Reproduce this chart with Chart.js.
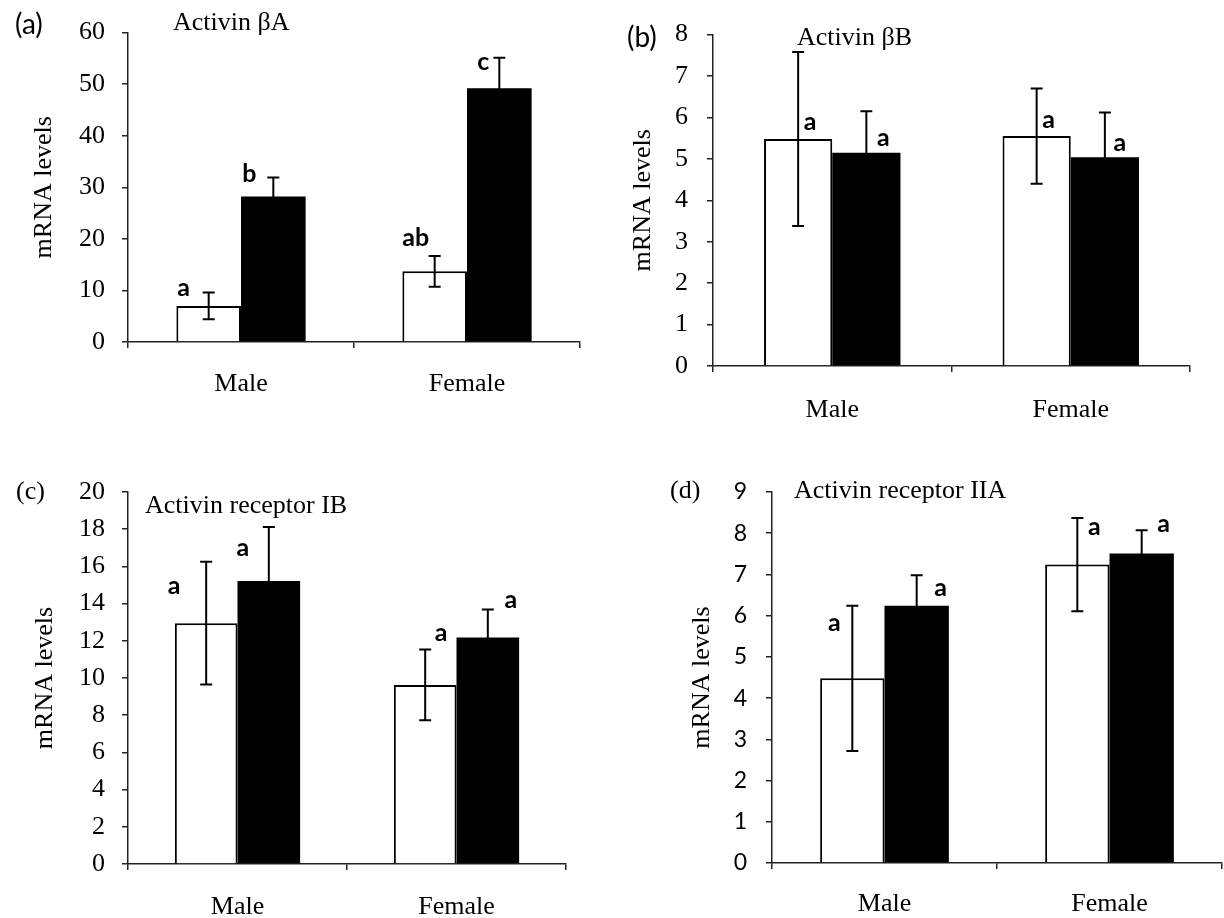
<!DOCTYPE html>
<html>
<head>
<meta charset="utf-8">
<script src="https://cdn.jsdelivr.net/npm/chart.js@4.4.0/dist/chart.umd.min.js"></script>
<style>
  body { margin: 0; background: #fff; }
  #wrap { position: relative; width: 1224px; height: 918px; }
  #wrap canvas { position: absolute; }
</style>
</head>
<body>
<div id="wrap">
  <canvas id="chartA" width="612" height="459" style="left:0;top:0"></canvas>
  <canvas id="chartB" width="612" height="459" style="left:612px;top:0"></canvas>
  <canvas id="chartC" width="612" height="459" style="left:0;top:459px"></canvas>
  <canvas id="chartD" width="612" height="459" style="left:612px;top:459px"></canvas>
</div>
<script>
const categories = ['Male', 'Female'];

// Activin βA
const betaAOpen = [7.0, 13.7];
const betaAOpenErr = [2.6, 3.0];
const betaASolid = [28.2, 49.2];
const betaASolidErr = [3.7, 5.9];
const betaALetters = [['a', 'ab'], ['b', 'c']];
const betaATicks = [0, 10, 20, 30, 40, 50, 60];

// Activin βB
const betaBOpen = [5.48, 5.55];
const betaBOpenErr = [2.1, 1.15];
const betaBSolid = [5.15, 5.04];
const betaBSolidErr = [1.0, 1.08];
const betaBLetters = [['a', 'a'], ['a', 'a']];
const betaBTicks = [0, 1, 2, 3, 4, 5, 6, 7, 8];

// Activin receptor IB
const r1bOpen = [12.95, 9.63];
const r1bOpenErr = [3.3, 1.9];
const r1bSolid = [15.22, 12.18];
const r1bSolidErr = [2.9, 1.5];
const r1bLetters = [['a', 'a'], ['a', 'a']];
const r1bTicks = [0, 2, 4, 6, 8, 10, 12, 14, 16, 18, 20];

// Activin receptor IIA
const r2aOpen = [4.48, 7.24];
const r2aOpenErr = [1.76, 1.13];
const r2aSolid = [6.24, 7.51];
const r2aSolidErr = [0.74, 0.56];
const r2aLetters = [['a', 'a'], ['a', 'a']];
const r2aTicks = [0, 1, 2, 3, 4, 5, 6, 7, 8, 9];

const SERIF = 'Liberation Serif, Times New Roman, serif';
const SANS = 'Lato, Carlito, sans-serif';
const W = 612, H = 459;
const AXIS_W = 100, AXIS_H = 60;

// mean +/- error whiskers on every bar
const errorBars = {
  id: 'errorBars',
  afterDatasetsDraw(chart) {
    const ctx = chart.ctx, y = chart.scales.y;
    ctx.save();
    ctx.strokeStyle = '#000';
    ctx.lineWidth = 2;
    chart.data.datasets.forEach((ds, i) => {
      chart.getDatasetMeta(i).data.forEach((bar, j) => {
        const top = y.getPixelForValue(ds.data[j] + ds.err[j]);
        const bot = y.getPixelForValue(ds.data[j] - ds.err[j]);
        ctx.beginPath();
        ctx.moveTo(bar.x, top); ctx.lineTo(bar.x, bot);
        ctx.moveTo(bar.x - 6, top); ctx.lineTo(bar.x + 6, top);
        ctx.moveTo(bar.x - 6, bot); ctx.lineTo(bar.x + 6, bot);
        ctx.stroke();
      });
    });
    ctx.restore();
  }
};

// significance letters, panel tag and gene name
const panelText = {
  id: 'panelText',
  afterDraw(chart, args, opts) {
    const ctx = chart.ctx, y = chart.scales.y;
    ctx.save();
    ctx.fillStyle = '#000';
    ctx.textBaseline = 'middle';
    ctx.textAlign = 'center';
    ctx.font = 'bold 25px ' + SANS;
    chart.data.datasets.forEach((ds, i) => {
      chart.getDatasetMeta(i).data.forEach((bar, j) => {
        const [dx, dy] = opts.shifts[i][j];
        ctx.fillText(ds.letters[j], bar.x + dx, y.getPixelForValue(ds.data[j]) + dy);
      });
    });
    ctx.textAlign = 'left';
    ctx.font = opts.tagSize + 'px ' + opts.tagFont;
    ctx.fillText(opts.tag, opts.tagPos[0], opts.tagPos[1]);
    ctx.font = '26px ' + SERIF;
    ctx.fillText(opts.name, opts.namePos[0], opts.namePos[1]);
    ctx.restore();
  }
};

function makePanel(p) {
  const axisLine = { color: '#222', width: 1.5 };
  const tickMarks = { drawOnChartArea: false, tickLength: 6, color: '#222', lineWidth: 1.5 };
  return new Chart(document.getElementById(p.canvas), {
    type: 'bar',
    data: {
      labels: categories,
      datasets: [
        { data: p.open, err: p.openErr, letters: p.letters[0],
          backgroundColor: '#fff', borderColor: '#000', borderWidth: 2 },
        { data: p.solid, err: p.solidErr, letters: p.letters[1],
          backgroundColor: '#000', borderColor: '#000', borderWidth: 0 }
      ]
    },
    options: {
      responsive: false,
      animation: false,
      devicePixelRatio: 1,
      categoryPercentage: 0.572,
      barPercentage: 1,
      layout: {
        padding: {
          left: p.area.left - AXIS_W,
          right: W - p.area.right,
          top: p.area.top,
          bottom: H - p.area.bottom - AXIS_H
        }
      },
      scales: {
        x: {
          afterFit: s => { s.height = AXIS_H; },
          ticks: { font: { family: SERIF, size: 26 }, color: '#000', padding: p.xPad },
          grid: Object.assign({ offset: true }, tickMarks),
          border: axisLine
        },
        y: {
          min: p.ticks[0],
          max: p.ticks[p.ticks.length - 1],
          afterBuildTicks: s => { s.ticks = p.ticks.map(v => ({ value: v })); },
          afterFit: s => { s.width = AXIS_W; },
          ticks: { font: { family: p.tickFont, size: p.tickSize }, color: '#000', padding: p.tickPad },
          grid: tickMarks,
          border: axisLine,
          title: {
            display: true,
            text: 'mRNA levels',
            color: '#000',
            font: { family: SERIF, size: 26 },
            padding: { top: p.titlePad, bottom: 0 }
          }
        }
      },
      plugins: {
        legend: { display: false },
        tooltip: { enabled: false },
        panelText: {
          tag: p.tag, tagFont: p.tagFont, tagSize: p.tagSize, tagPos: p.tagPos,
          name: p.name, namePos: p.namePos,
          shifts: p.shifts
        }
      }
    },
    plugins: [errorBars, panelText]
  });
}

makePanel({
  canvas: 'chartA',
  open: betaAOpen, openErr: betaAOpenErr, solid: betaASolid, solidErr: betaASolidErr,
  letters: betaALetters, ticks: betaATicks,
  area: { left: 128, right: 580, top: 25, bottom: 342 },
  tickFont: SERIF, tickSize: 26, tickPad: 17, xPad: 21, titlePad: 1,
  tag: '(a)', tagFont: SANS, tagSize: 28, tagPos: [15, 25],
  name: 'Activin βA', namePos: [173, 23],
  shifts: [[[-25, -18], [-19, -33]], [[-24, -23], [-16, -26]]]
});

makePanel({
  canvas: 'chartB',
  open: betaBOpen, openErr: betaBOpenErr, solid: betaBSolid, solidErr: betaBSolidErr,
  letters: betaBLetters, ticks: betaBTicks,
  area: { left: 101, right: 578, top: 30, bottom: 366 },
  tickFont: SERIF, tickSize: 26, tickPad: 19, xPad: 23, titlePad: 15,
  tag: '(b)', tagFont: SANS, tagSize: 28, tagPos: [15, 38],
  name: 'Activin βB', namePos: [185, 38],
  shifts: [[[12, -17], [12, -16]], [[17, -15], [15, -14]]]
});

makePanel({
  canvas: 'chartC',
  open: r1bOpen, openErr: r1bOpenErr, solid: r1bSolid, solidErr: r1bSolidErr,
  letters: r1bLetters, ticks: r1bTicks,
  area: { left: 128, right: 566, top: 33, bottom: 405 },
  tickFont: SERIF, tickSize: 26, tickPad: 17, xPad: 22, titlePad: 2,
  tag: '(c)', tagFont: SERIF, tagSize: 26, tagPos: [16, 33],
  name: 'Activin receptor IB', namePos: [145, 47],
  shifts: [[[-32, -37], [16, -52]], [[-26, -33], [23, -38]]]
});

makePanel({
  canvas: 'chartD',
  open: r2aOpen, openErr: r2aOpenErr, solid: r2aSolid, solidErr: r2aSolidErr,
  letters: r2aLetters, ticks: r2aTicks,
  area: { left: 160, right: 610, top: 33, bottom: 404 },
  tickFont: SANS, tickSize: 23, tickPad: 19, xPad: 20, titlePad: 15,
  tag: '(d)', tagFont: SERIF, tagSize: 26, tagPos: [58, 32],
  name: 'Activin receptor IIA', namePos: [182, 32],
  shifts: [[[-18, -55], [17, -38]], [[24, -18], [22, -29]]]
});
</script>
</body>
</html>
